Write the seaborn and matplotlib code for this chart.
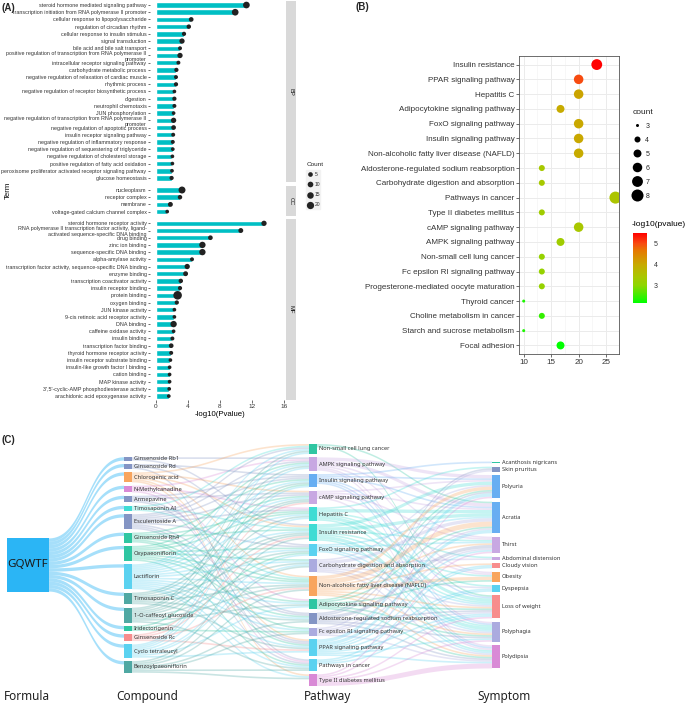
import numpy as np
import pandas as pd
import matplotlib
matplotlib.use("Agg")
import matplotlib.pyplot as plt
import seaborn as sns
from matplotlib.colors import LinearSegmentedColormap, Normalize
from matplotlib.colorbar import ColorbarBase
from matplotlib.lines import Line2D
from matplotlib.patches import Rectangle

# ---------------- (A) GO enrichment ----------------
bp_terms = [
    "steroid hormone mediated signaling pathway",
    "transcription initiation from RNA polymerase II promoter",
    "cellular response to lipopolysaccharide",
    "regulation of circadian rhythm",
    "cellular response to insulin stimulus",
    "signal transduction",
    "bile acid and bile salt transport",
    "positive regulation of transcription from RNA polymerase II\npromoter",
    "intracellular receptor signaling pathway",
    "carbohydrate metabolic process",
    "negative regulation of relaxation of cardiac muscle",
    "rhythmic process",
    "negative regulation of receptor biosynthetic process",
    "digestion",
    "neutrophil chemotaxis",
    "JUN phosphorylation",
    "negative regulation of transcription from RNA polymerase II\npromoter",
    "negative regulation of apoptotic process",
    "insulin receptor signaling pathway",
    "negative regulation of inflammatory response",
    "negative regulation of sequestering of triglyceride",
    "negative regulation of cholesterol storage",
    "positive regulation of fatty acid oxidation",
    "peroxisome proliferator activated receptor signaling pathway",
    "glucose homeostasis",
]
bp_logp = [11.3, 9.9, 4.4, 4.1, 3.5, 3.25, 3.0, 3.0, 2.8, 2.55, 2.5, 2.5, 2.3,
           2.3, 2.3, 2.2, 2.2, 2.2, 2.15, 2.1, 2.1, 2.05, 2.05, 2.0, 1.95]
bp_count = [16, 16, 5, 4, 3, 8, 2, 8, 2, 3, 2, 3, 1, 3, 2, 1, 8, 5, 2, 2, 1, 1, 1, 1, 3]

cc_terms = ["nucleoplasm", "receptor complex", "membrane",
            "voltage-gated calcium channel complex"]
cc_logp = [3.25, 3.0, 1.8, 1.4]
cc_count = [18, 4, 6, 1]

mf_terms = [
    "steroid hormone receptor activity",
    "RNA polymerase II transcription factor activity, ligand-\nactivated sequence-specific DNA binding",
    "drug binding",
    "zinc ion binding",
    "sequence-specific DNA binding",
    "alpha-amylase activity",
    "transcription factor activity, sequence-specific DNA binding",
    "enzyme binding",
    "transcription coactivator activity",
    "insulin receptor binding",
    "protein binding",
    "oxygen binding",
    "JUN kinase activity",
    "9-cis retinoic acid receptor activity",
    "DNA binding",
    "caffeine oxidase activity",
    "insulin binding",
    "transcription factor binding",
    "thyroid hormone receptor activity",
    "insulin receptor substrate binding",
    "insulin-like growth factor I binding",
    "cation binding",
    "MAP kinase activity",
    "3',5'-cyclic-AMP phosphodiesterase activity",
    "arachidonic acid epoxygenase activity",
]
mf_logp = [13.5, 10.6, 6.8, 5.8, 5.8, 4.5, 3.9, 3.7, 3.1, 3.0, 2.7, 2.6, 2.3,
           2.3, 2.2, 2.2, 2.05, 1.9, 1.9, 1.8, 1.7, 1.7, 1.7, 1.65, 1.6]
mf_count = [8, 6, 5, 14, 14, 2, 8, 6, 4, 3, 30, 3, 1, 1, 14, 1, 2, 5, 2, 1, 1, 1, 1, 1, 1]

count_breaks = [5, 10, 15, 20]

# ---------------- (B) KEGG enrichment ----------------
kegg_terms = [
    "Insulin resistance", "PPAR signaling pathway", "Hepatitis C",
    "Adipocytokine signaling pathway", "FoxO signaling pathway",
    "Insulin signaling pathway", "Non-alcoholic fatty liver disease (NAFLD)",
    "Aldosterone-regulated sodium reabsorption",
    "Carbohydrate digestion and absorption", "Pathways in cancer",
    "Type II diabetes mellitus", "cAMP signaling pathway", "AMPK signaling pathway",
    "Non-small cell lung cancer", "Fc epsilon RI signaling pathway",
    "Progesterone-mediated oocyte maturation", "Thyroid cancer",
    "Choline metabolism in cancer", "Starch and sucrose metabolism", "Focal adhesion",
]
kegg_ratio = [23.3, 20.0, 20.0, 16.7, 20.0, 20.0, 20.0, 13.3, 13.3, 26.7,
              13.3, 20.0, 16.7, 13.3, 13.3, 13.3, 10.0, 13.3, 10.0, 16.7]
kegg_logp = [5.52, 5.0, 4.1, 4.0, 4.05, 4.05, 4.0, 3.4, 3.4, 3.5,
             3.3, 3.45, 3.3, 3.15, 3.15, 3.15, 2.35, 2.5, 2.35, 2.19]
kegg_count = [7, 6, 6, 5, 6, 6, 6, 4, 4, 8, 4, 6, 5, 4, 4, 4, 3, 4, 3, 5]
kegg_count_breaks = [3, 4, 5, 6, 7, 8]

# ---------------- (C) Sankey ----------------
formula = ["GQWTF"]
compounds = [
    "Ginsenoside Rb1", "Ginsenoside Rd", "Chlorogenic acid", "N-Methylcanadine",
    "Armepavine", "Timosaponin AI", "Esculentoside A", "Ginsenoside Rh4",
    "Oxypaeoniflorin", "Lactiflorin", "Timosaponin C", "1-O-caffeoyl glucoside",
    "Iridectorigenin", "Ginsenoside Rc", "Cyclo tetraleucyl", "Benzoylpaeoniflorin",
]
pathways = [
    "Non-small cell lung cancer", "AMPK signaling pathway", "Insulin signaling pathway",
    "cAMP signaling pathway", "Hepatitis C", "Insulin resistance",
    "FoxO signaling pathway", "Carbohydrate digestion and absorption",
    "Non-alcoholic fatty liver disease (NAFLD)", "Adipocytokine signaling pathway",
    "Aldosterone-regulated sodium reabsorption", "Fc epsilon RI signaling pathway",
    "PPAR signaling pathway", "Pathways in cancer", "Type II diabetes mellitus",
]
symptoms = [
    "Acanthosis nigricans", "Skin pruritus", "Polyuria", "Acratia", "Thirst",
    "Abdominal distension", "Cloudy vision", "Obesity", "Dyspepsia",
    "Loss of weight", "Polyphagia", "Polydipsia",
]
formula_link_value = 2
# pathway indices hit by each compound (value 1 per link)
compound_pathways = [
    [1, 5], [2, 6, 13], [0, 3, 5, 8, 12, 14], [1, 4, 9, 13], [2, 3, 10, 12],
    [0, 5, 8], [0, 1, 2, 3, 4, 6, 10, 12, 13], [2, 4, 5, 8, 11, 12],
    [1, 3, 4, 6, 7, 8, 9, 10, 13], list(range(15)), [2, 3, 5, 6, 8, 10, 12],
    [0, 1, 3, 4, 5, 7, 8, 9, 13], [2, 6, 11], [3, 5, 8, 12],
    [0, 1, 2, 4, 6, 7, 9, 12], [5, 7, 8, 10, 11, 13, 14],
]
# rows: pathways, cols: symptoms
pathway_symptom = [
    [0, 0, 0, 1, 0, 0, 0, 0, 0, 1, 0, 0],
    [0, 0, 2, 2, 1, 0, 0, 1, 0, 0, 1, 1],
    [1, 0, 1, 1, 0, 0, 0, 0, 0, 1, 1, 1],
    [0, 0, 1, 1, 1, 0, 0, 1, 0, 0, 0, 1],
    [0, 1, 0, 2, 0, 1, 0, 0, 1, 2, 1, 0],
    [0, 0, 2, 2, 1, 0, 0, 1, 0, 1, 2, 1],
    [0, 0, 0, 1, 1, 0, 0, 0, 0, 1, 1, 1],
    [0, 0, 1, 2, 0, 1, 0, 0, 1, 1, 1, 1],
    [0, 0, 2, 3, 1, 0, 1, 2, 0, 1, 1, 1],
    [0, 0, 1, 1, 0, 0, 0, 1, 0, 1, 1, 1],
    [0, 1, 1, 0, 2, 0, 0, 0, 0, 1, 1, 1],
    [0, 1, 0, 1, 1, 0, 0, 0, 0, 1, 0, 1],
    [0, 0, 2, 2, 1, 0, 1, 0, 1, 1, 1, 1],
    [0, 0, 0, 0, 0, 0, 1, 0, 1, 1, 0, 0],
    [0, 0, 1, 0, 1, 0, 0, 0, 0, 1, 1, 3],
]

# colours (style)
SLATE, ORANGE, ORCHID, TURQ = "#8495C4", "#F8A55E", "#D98AD6", "#3FDCD4"
GREEN, CYAN, TEAL, SALMON = "#2FC6A2", "#5BD2F0", "#4FA8A3", "#F78D8D"
LAV, BLUE, PERI = "#C8A8E2", "#68AEF2", "#ABABDF"
node_colors = {"GQWTF": "#2BB5F5"}
node_colors.update(zip(compounds, [SLATE, SLATE, ORANGE, ORCHID, SLATE, TURQ, SLATE, GREEN,
                                   GREEN, CYAN, TEAL, TEAL, GREEN, SALMON, CYAN, TEAL]))
node_colors.update(zip(pathways, [GREEN, LAV, BLUE, LAV, TURQ, TURQ, CYAN, PERI, ORANGE,
                                  GREEN, SLATE, PERI, CYAN, CYAN, ORCHID]))
node_colors.update(zip(symptoms, [GREEN, SLATE, BLUE, BLUE, LAV, LAV, SALMON, ORANGE,
                                  CYAN, SALMON, PERI, ORCHID]))

W, H = 685, 707
sns.set_style("white")
plt.rcParams["font.family"] = ["Liberation Sans", "DejaVu Sans"]
fig = plt.figure(figsize=(W / 100, H / 100), dpi=100)


def px_axes(x0, y0, x1, y1, **kw):
    return fig.add_axes([x0 / W, 1 - y1 / H, (x1 - x0) / W, (y1 - y0) / H], **kw)


TXT = "#333333"

# ---- panel A
facets = [("BP", bp_terms, bp_logp, bp_count, 0.7, 182.3),
          ("CC", cc_terms, cc_logp, cc_count, 185.7, 215.9),
          ("MF", mf_terms, mf_logp, mf_count, 219.0, 400.4)]
for name, terms, logp, cnt, y0, y1 in facets:
    ax = px_axes(150.4, y0, 284.8, y1)
    df = pd.DataFrame({"Term": terms, "logp": logp, "Count": cnt})
    sns.barplot(data=df, x="logp", y="Term", orient="h", color="#00BFC4",
                saturation=1, width=0.76, ax=ax)
    sns.scatterplot(data=df, x="logp", y="Term", size="Count", sizes=(6, 38),
                    size_norm=(0, 30), color="#222222", edgecolor="none",
                    legend=False, ax=ax, zorder=3)
    ax.set_xlim(-0.7, 16.1)
    ax.set_ylim(len(terms) - 0.4, -0.6)
    ax.set_xlabel("")
    ax.set_ylabel("")
    for s in ax.spines.values():
        s.set_visible(False)
    ax.tick_params(axis="y", labelsize=3.9, length=1.8, width=0.5, pad=1,
                   colors=TXT, left=True)
    if name == "MF":
        ax.set_xticks([0, 4, 8, 12, 16])
        ax.tick_params(axis="x", labelsize=4.6, length=1.8, width=0.5, pad=1,
                       colors=TXT, bottom=True)
    else:
        ax.set_xticks([])
    sax = px_axes(285.5, y0, 296, y1)
    sax.set_facecolor("#D9D9D9")
    sax.set_xticks([])
    sax.set_yticks([])
    for s in sax.spines.values():
        s.set_visible(False)
    sax.text(0.5, 0.5, name, rotation=270, ha="center", va="center",
             fontsize=4.2, color="#1A1A1A", transform=sax.transAxes)

fig.text(220 / W, 1 - 415 / H, "-log10(Pvalue)", ha="center", va="center",
         fontsize=5.6, color="black")
fig.text(8 / W, 1 - 190 / H, "Term", rotation=90, ha="center", va="center",
         fontsize=5.6, color="black")
fig.text(2 / W, 1 - 8 / H, "(A)", fontsize=7, fontweight="bold", va="center")

fig.patches.append(Rectangle((306 / W, 1 - 209 / H), 14 / W, 39 / H,
                             transform=fig.transFigure, color="#F2F2F2", zorder=0))
hA = [Line2D([], [], ls="", marker="o", color="#222222", markeredgewidth=0,
             markersize=np.sqrt(6 + 32 / 30 * c)) for c in count_breaks]
legA = fig.legend(hA, [str(c) for c in count_breaks], title="Count", loc="upper left",
                  bbox_to_anchor=(303 / W, 1 - 158 / H), frameon=False, fontsize=3.6,
                  title_fontsize=4.6, labelspacing=1.05, handletextpad=0.3,
                  handlelength=1.4, borderpad=0.2)
legA._legend_box.align = "left"

# ---- panel B
cmap = LinearSegmentedColormap.from_list(
    "gr", [(0, "#00FF00"), (0.25, "#8ED600"), (0.37, "#A8C800"), (0.55, "#C8AA00"),
           (0.75, "#E67800"), (0.85, "#F84A10"), (1.0, "#FF0000")])
lo, hi = min(kegg_logp), max(kegg_logp)
axb = px_axes(519.3, 55.7, 619.3, 354.3)
dfb = pd.DataFrame({"Pathway": kegg_terms, "Ratio": kegg_ratio,
                    "logp": kegg_logp, "count": kegg_count})
sns.scatterplot(data=dfb, x="Ratio", y="Pathway", hue="logp", palette=cmap,
                hue_norm=(lo, hi), size="count", sizes=(4.7, 75), size_norm=(3, 8),
                edgecolor="none", legend=False, ax=axb, zorder=3)
axb.set_xlim(9.2, 27.4)
axb.set_ylim(len(kegg_terms) - 0.4, -0.6)
axb.set_xticks([10, 15, 20, 25])
axb.set_xticks([12.5, 17.5, 22.5], minor=True)
axb.grid(True, which="major", color="#EBEBEB", lw=0.7)
axb.grid(True, which="minor", axis="x", color="#F2F2F2", lw=0.4)
axb.set_axisbelow(True)
axb.set_xlabel("")
axb.set_ylabel("")
for s in axb.spines.values():
    s.set_color("#555555")
    s.set_linewidth(0.6)
axb.tick_params(axis="both", which="major", labelsize=5.8, length=2, width=0.5,
                pad=1.5, colors=TXT, left=True, bottom=True)
axb.tick_params(axis="x", which="minor", length=0)
fig.text(355 / W, 1 - 7 / H, "(B)", fontsize=7, fontweight="bold", va="center")

hB = [Line2D([], [], ls="", marker="o", color="black", markeredgewidth=0,
             markersize=np.sqrt(4.7 + (c - 3) / 5 * 70.3)) for c in kegg_count_breaks]
legB = fig.legend(hB, [str(c) for c in kegg_count_breaks], title="count",
                  loc="upper left", bbox_to_anchor=(628 / W, 1 - 104 / H), frameon=False,
                  fontsize=5, title_fontsize=6, labelspacing=1.0, handletextpad=0.6,
                  handlelength=1.2, borderpad=0.2)
legB._legend_box.align = "left"

cax = px_axes(633.3, 233, 647.3, 303)
cb = ColorbarBase(cax, cmap=cmap, norm=Normalize(lo, hi), ticks=[3, 4, 5])
cb.outline.set_visible(False)
cax.tick_params(labelsize=5, length=2.5, width=0.5, pad=2, colors=TXT)
cax.tick_params(color="white")
fig.text(632 / W, 1 - 224 / H, "-log10(pvalue)", fontsize=6, va="center", color="black")

# ---- panel C: sankey
axc = fig.add_axes([0, 0, 1, (H - 430) / H])
axc.set_xlim(0, W)
axc.set_ylim(H, 430)
axc.axis("off")

links = [(formula[0], c, formula_link_value) for c in compounds]
for c, plist in zip(compounds, compound_pathways):
    links += [(c, pathways[p], 1) for p in plist]
for i, row in enumerate(pathway_symptom):
    links += [(pathways[i], symptoms[j], v) for j, v in enumerate(row) if v]

columns = [formula, compounds, pathways, symptoms]
col_x = [7, 124, 309, 492]
col_w = [42, 8, 8, 8]
gap, center, span = 3.4, 565, 242

inflow, outflow = {}, {}
for s, t, v in links:
    outflow[s] = outflow.get(s, 0) + v
    inflow[t] = inflow.get(t, 0) + v
val = {n: max(inflow.get(n, 0), outflow.get(n, 0)) for col in columns for n in col}
k = min((span - gap * (len(col) - 1)) / sum(val[n] for n in col) for col in columns)

top, nx, nw = {}, {}, {}
for col, x, w in zip(columns, col_x, col_w):
    total = sum(val[n] for n in col) * k + gap * (len(col) - 1)
    y = center - total / 2
    for n in col:
        top[n] = y
        nx[n], nw[n] = x, w
        y += val[n] * k + gap

src_off = dict(top)
dst_off = dict(top)
s_pos, t_pos = {}, {}
for i in sorted(range(len(links)), key=lambda i: (links[i][0], top[links[i][1]])):
    s, t, v = links[i]
    s_pos[i] = src_off[s]
    src_off[s] += v * k
for i in sorted(range(len(links)), key=lambda i: (links[i][1], top[links[i][0]])):
    s, t, v = links[i]
    t_pos[i] = dst_off[t]
    dst_off[t] += v * k

tt = np.linspace(0, 1, 60)
for i, (s, t, v) in enumerate(links):
    x0, x1 = nx[s] + nw[s], nx[t]
    xm = (x0 + x1) / 2
    xs = (1 - tt) ** 3 * x0 + 3 * (1 - tt) ** 2 * tt * xm + 3 * (1 - tt) * tt ** 2 * xm + tt ** 3 * x1
    y0, y1 = s_pos[i], t_pos[i]
    ys = (1 - tt) ** 3 * y0 + 3 * (1 - tt) ** 2 * tt * y0 + 3 * (1 - tt) * tt ** 2 * y1 + tt ** 3 * y1
    w = v * k
    axc.fill(np.r_[xs, xs[::-1]], np.r_[ys, (ys + w)[::-1]], color=node_colors[s],
             alpha=0.42 if s == formula[0] else 0.3, lw=0)

for col in columns:
    for n in col:
        axc.add_patch(Rectangle((nx[n], top[n]), nw[n], val[n] * k,
                                color=node_colors[n], lw=0, zorder=3))
        if n != formula[0]:
            axc.text(nx[n] + nw[n] + 2, top[n] + val[n] * k / 2, n, fontsize=4.1,
                     va="center", ha="left", color="#333333", family="Noto Sans", zorder=4)
axc.text(nx["GQWTF"] + nw["GQWTF"] / 2, top["GQWTF"] + val["GQWTF"] * k / 2, "GQWTF",
         fontsize=8.3, ha="center", va="center", color="#1A1A1A", family="Noto Sans", zorder=4)

for label, xc in zip(["Formula", "Compound", "Pathway", "Symptom"], [27, 147, 328, 504]):
    axc.text(xc, 697, label, fontsize=8.5, ha="center", va="center", color="#222222",
             family="Noto Sans")
fig.text(2 / W, 1 - 440 / H, "(C)", fontsize=7, fontweight="bold", va="center")

fig.savefig("out.png", dpi=100)
